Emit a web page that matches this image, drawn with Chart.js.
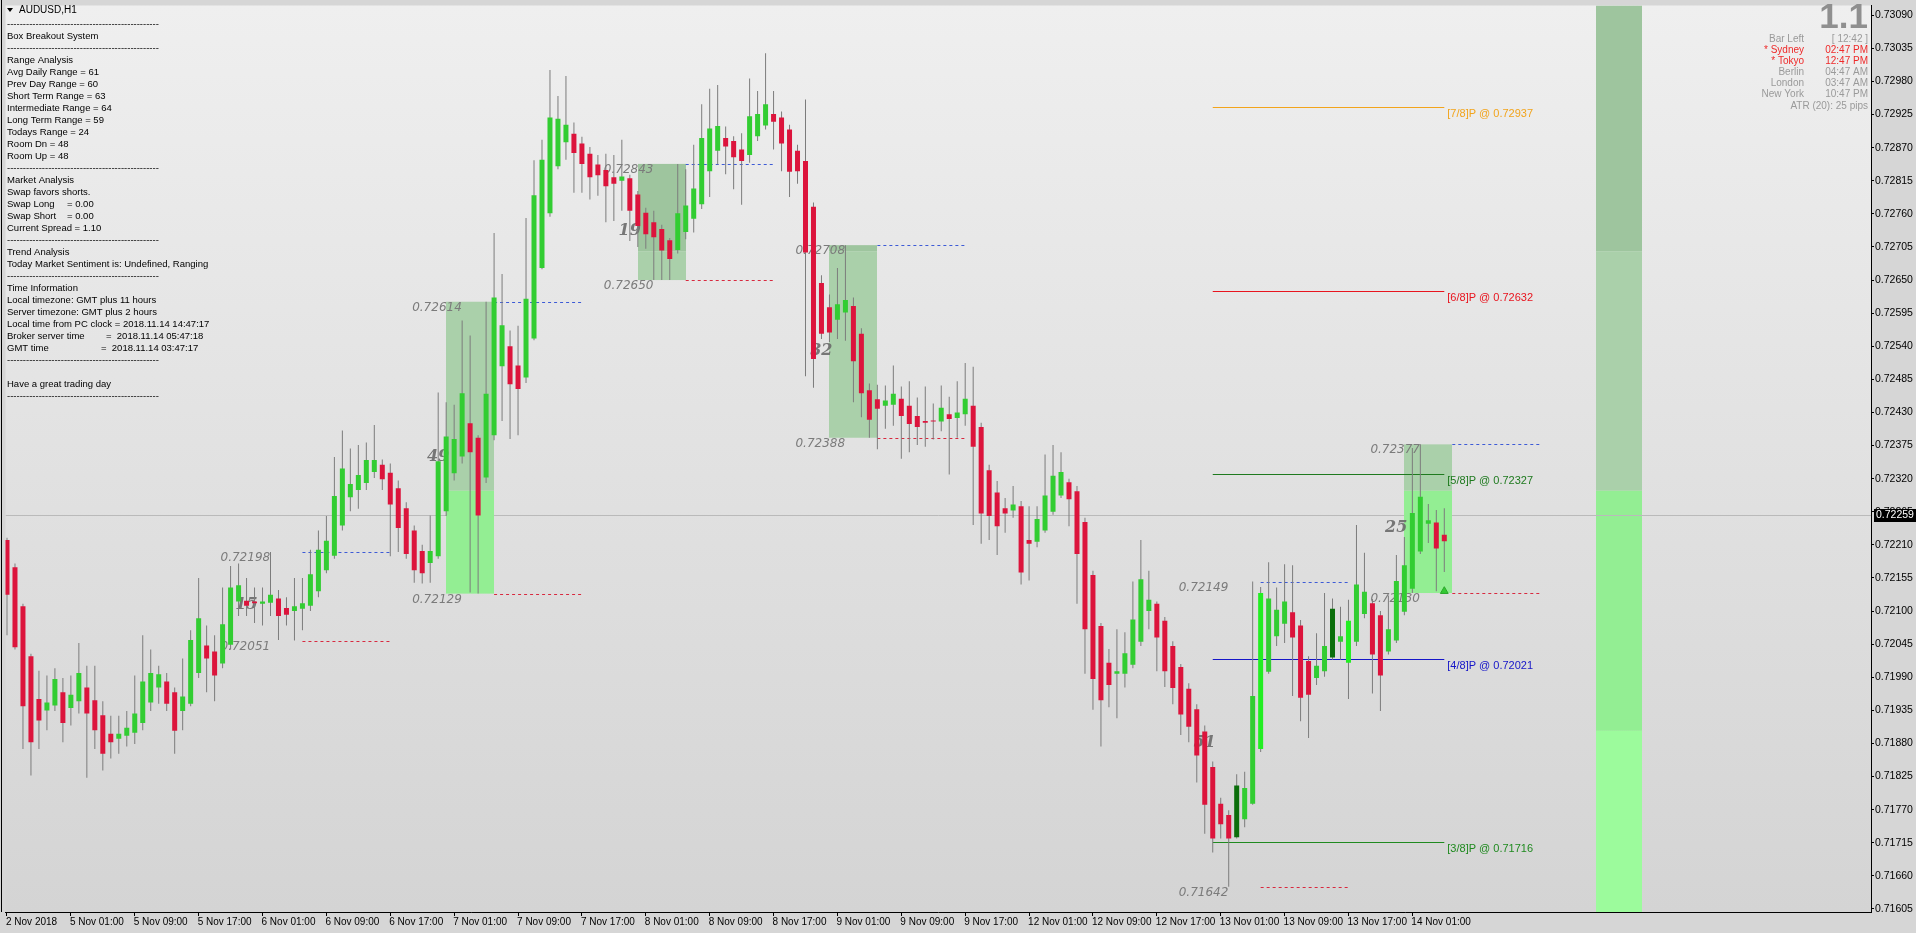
<!DOCTYPE html>
<html>
<head>
<meta charset="utf-8">
<script src="https://cdn.jsdelivr.net/npm/chart.js@4.4.1/dist/chart.umd.min.js"></script>
<style>
  html, body { margin: 0; padding: 0; background: #d6d6d6; overflow: hidden; }
  #wrap { width: 1916px; height: 933px; }
</style>
</head>
<body>
<div id="wrap"><canvas id="chart" width="1916" height="933"></canvas></div>
<script>
// AUDUSD H1, bar 0 = 2 Nov 2018 17:00, last bar = 14 Nov 05:00
const opens = [
  0.72218, 0.72173, 0.72108, 0.72025, 0.71954, 0.71935, 0.71943, 0.71965, 0.71939, 0.71950,
  0.71973, 0.71952, 0.71927, 0.71896, 0.71888, 0.71893, 0.71898, 0.71914, 0.71948, 0.71973,
  0.71983, 0.71965, 0.71934, 0.71946, 0.71997, 0.72043, 0.72033, 0.72013, 0.72044, 0.72116,
  0.72117, 0.72116, 0.72112, 0.72114, 0.72121, 0.72105, 0.72100, 0.72104, 0.72109, 0.72133,
  0.72168, 0.72192, 0.72242, 0.72289, 0.72301, 0.72313, 0.72331, 0.72343, 0.72330, 0.72304,
  0.72271, 0.72234, 0.72200, 0.72180, 0.72191, 0.72266, 0.72329, 0.72357, 0.72412, 0.72388,
  0.72322, 0.72392, 0.72507, 0.72540, 0.72508, 0.72488, 0.72553, 0.72670, 0.72761, 0.72839,
  0.72879, 0.72893, 0.72877, 0.72860, 0.72842, 0.72833, 0.72821, 0.72815, 0.72819, 0.72792,
  0.72762, 0.72746, 0.72735, 0.72716, 0.72700, 0.72730, 0.72752, 0.72776, 0.72831, 0.72865,
  0.72886, 0.72881, 0.72867, 0.72858, 0.72889, 0.72907, 0.72926, 0.72920, 0.72900, 0.72865,
  0.72848, 0.72772, 0.72645, 0.72605, 0.72584, 0.72596, 0.72607, 0.72561, 0.72467, 0.72452,
  0.72441, 0.72443, 0.72453, 0.72441, 0.72424, 0.72416, 0.72416, 0.72415, 0.72427, 0.72421,
  0.72427, 0.72441, 0.72406, 0.72334, 0.72297, 0.72271, 0.72267, 0.72274, 0.72218, 0.72215,
  0.72234, 0.72265, 0.72292, 0.72314, 0.72299, 0.72248, 0.72160, 0.72075, 0.72014, 0.71996,
  0.71996, 0.72011, 0.72049, 0.72100, 0.72112, 0.72084, 0.72042, 0.72007, 0.71971, 0.71937,
  0.71900, 0.71841, 0.71780, 0.71761, 0.71724, 0.71754, 0.71780, 0.71871, 0.71999, 0.72058,
  0.72079, 0.72098, 0.72076, 0.72017, 0.71989, 0.72000, 0.72023, 0.72049, 0.72014, 0.72049,
  0.72095, 0.72113, 0.72093, 0.72033, 0.72051, 0.72099, 0.72137, 0.72199, 0.72245, 0.72247, 0.72227
];
const highs = [
  0.72222, 0.72179, 0.72112, 0.72029, 0.72001, 0.71993, 0.72005, 0.71989, 0.71993, 0.72047,
  0.72009, 0.72009, 0.71950, 0.71926, 0.71926, 0.71934, 0.71993, 0.72060, 0.72036, 0.72009,
  0.71997, 0.71973, 0.72021, 0.72068, 0.72155, 0.72076, 0.72060, 0.72139, 0.72175, 0.72179,
  0.72155, 0.72139, 0.72139, 0.72198, 0.72135, 0.72123, 0.72155, 0.72155, 0.72202, 0.72234,
  0.72258, 0.72356, 0.72400, 0.72370, 0.72376, 0.72380, 0.72409, 0.72352, 0.72345, 0.72317,
  0.72281, 0.72242, 0.72210, 0.72259, 0.72463, 0.72447, 0.72443, 0.72583, 0.72558, 0.72392,
  0.72614, 0.72728, 0.72660, 0.72566, 0.72574, 0.72753, 0.72849, 0.72883, 0.72999, 0.72956,
  0.72989, 0.72912, 0.72888, 0.72871, 0.72858, 0.72860, 0.72858, 0.72883, 0.72825, 0.72798,
  0.72770, 0.72765, 0.72742, 0.72720, 0.72843, 0.72834, 0.72875, 0.72942, 0.72968, 0.72974,
  0.72905, 0.72889, 0.72894, 0.72985, 0.72964, 0.73027, 0.72964, 0.72930, 0.72908, 0.72875,
  0.72950, 0.72779, 0.72658, 0.72626, 0.72670, 0.72708, 0.72621, 0.72570, 0.72478, 0.72476,
  0.72475, 0.72508, 0.72473, 0.72482, 0.72455, 0.72473, 0.72445, 0.72475, 0.72456, 0.72482,
  0.72512, 0.72506, 0.72413, 0.72343, 0.72316, 0.72288, 0.72308, 0.72283, 0.72274, 0.72274,
  0.72360, 0.72376, 0.72364, 0.72320, 0.72308, 0.72255, 0.72167, 0.72080, 0.72037, 0.72070,
  0.72065, 0.72149, 0.72218, 0.72167, 0.72116, 0.72090, 0.72050, 0.72012, 0.71980, 0.71945,
  0.71910, 0.71850, 0.71790, 0.71769, 0.71829, 0.71833, 0.72149, 0.72140, 0.72181, 0.72139,
  0.72178, 0.72176, 0.72085, 0.72025, 0.72063, 0.72130, 0.72121, 0.72107, 0.72119, 0.72243,
  0.72197, 0.72120, 0.72100, 0.72126, 0.72193, 0.72223, 0.72371, 0.72377, 0.72278, 0.72268, 0.72271
];
const lows = [
  0.72060, 0.72036, 0.71871, 0.71827, 0.71871, 0.71902, 0.71934, 0.71882, 0.71910, 0.71930,
  0.71823, 0.71871, 0.71835, 0.71855, 0.71863, 0.71875, 0.71879, 0.71902, 0.71934, 0.71946,
  0.71934, 0.71863, 0.71902, 0.71942, 0.71989, 0.71965, 0.71950, 0.72005, 0.72036, 0.72092,
  0.72092, 0.72080, 0.72076, 0.72092, 0.72052, 0.72076, 0.72051, 0.72068, 0.72100, 0.72123,
  0.72163, 0.72187, 0.72234, 0.72266, 0.72270, 0.72301, 0.72321, 0.72301, 0.72191, 0.72198,
  0.72187, 0.72147, 0.72146, 0.72147, 0.72187, 0.72258, 0.72317, 0.72345, 0.72131, 0.72129,
  0.72313, 0.72384, 0.72416, 0.72386, 0.72392, 0.72479, 0.72550, 0.72668, 0.72755, 0.72834,
  0.72850, 0.72795, 0.72795, 0.72784, 0.72790, 0.72746, 0.72748, 0.72765, 0.72715, 0.72705,
  0.72702, 0.72650, 0.72650, 0.72650, 0.72694, 0.72718, 0.72729, 0.72768, 0.72788, 0.72842,
  0.72826, 0.72801, 0.72775, 0.72845, 0.72881, 0.72900, 0.72867, 0.72831, 0.72788, 0.72810,
  0.72490, 0.72471, 0.72552, 0.72547, 0.72552, 0.72549, 0.72447, 0.72422, 0.72388, 0.72369,
  0.72403, 0.72408, 0.72353, 0.72364, 0.72376, 0.72373, 0.72385, 0.72399, 0.72327, 0.72388,
  0.72408, 0.72243, 0.72212, 0.72218, 0.72193, 0.72230, 0.72255, 0.72144, 0.72151, 0.72206,
  0.72230, 0.72260, 0.72288, 0.72241, 0.72112, 0.71996, 0.71936, 0.71875, 0.71940, 0.71922,
  0.71973, 0.72005, 0.72042, 0.72070, 0.72000, 0.71974, 0.71945, 0.71894, 0.71882, 0.71815,
  0.71730, 0.71699, 0.71722, 0.71642, 0.71722, 0.71741, 0.71778, 0.71866, 0.71996, 0.72042,
  0.72047, 0.71959, 0.71917, 0.71889, 0.71977, 0.71991, 0.72019, 0.72019, 0.71954, 0.72042,
  0.72088, 0.71963, 0.71934, 0.72028, 0.72047, 0.72093, 0.72130, 0.72195, 0.72213, 0.72133, 0.72165
];
const closes = [
  0.72127, 0.72040, 0.71942, 0.71882, 0.71918, 0.71948, 0.71987, 0.71914, 0.71961, 0.71997,
  0.71930, 0.71902, 0.71863, 0.71882, 0.71896, 0.71906, 0.71930, 0.71983, 0.71997, 0.71995,
  0.71946, 0.71901, 0.71958, 0.72052, 0.72088, 0.72021, 0.71993, 0.72078, 0.72139, 0.72143,
  0.72109, 0.72113, 0.72116, 0.72127, 0.72092, 0.72094, 0.72108, 0.72113, 0.72161, 0.72202,
  0.72217, 0.72291, 0.72337, 0.72311, 0.72326, 0.72351, 0.72351, 0.72319, 0.72277, 0.72238,
  0.72195, 0.72168, 0.72163, 0.72200, 0.72349, 0.72390, 0.72386, 0.72462, 0.72364, 0.72259,
  0.72461, 0.72621, 0.72575, 0.72477, 0.72469, 0.72619, 0.72791, 0.72850, 0.72920, 0.72918,
  0.72908, 0.72861, 0.72843, 0.72821, 0.72824, 0.72806, 0.72810, 0.72822, 0.72765, 0.72740,
  0.72726, 0.72721, 0.72699, 0.72685, 0.72761, 0.72774, 0.72802, 0.72886, 0.72902, 0.72906,
  0.72872, 0.72854, 0.72848, 0.72922, 0.72926, 0.72942, 0.72913, 0.72877, 0.72830, 0.72831,
  0.72696, 0.72519, 0.72561, 0.72563, 0.72610, 0.72617, 0.72515, 0.72462, 0.72418, 0.72436,
  0.72450, 0.72461, 0.72424, 0.72411, 0.72406, 0.72413, 0.72415, 0.72438, 0.72419, 0.72430,
  0.72453, 0.72373, 0.72262, 0.72258, 0.72241, 0.72262, 0.72277, 0.72164, 0.72212, 0.72253,
  0.72292, 0.72325, 0.72331, 0.72286, 0.72195, 0.72070, 0.71987, 0.71952, 0.71977, 0.72000,
  0.72030, 0.72086, 0.72153, 0.72119, 0.72056, 0.72000, 0.71972, 0.71928, 0.71908, 0.71860,
  0.71778, 0.71722, 0.71746, 0.71722, 0.71810, 0.71806, 0.71959, 0.72130, 0.72121, 0.72102,
  0.72116, 0.72056, 0.71956, 0.71961, 0.72009, 0.72042, 0.72104, 0.72058, 0.72084, 0.72144,
  0.72132, 0.72028, 0.71993, 0.72070, 0.72150, 0.72176, 0.72263, 0.72290, 0.72251, 0.72204, 0.72216
];

// special candle colours drawn by the indicator
const specialBars = [154, 157, 166, 168];
const specialColors = ['#0b6e0b', '#22ee22', '#0b6e0b', '#22ee22'];

// time axis labels
const timeBars = [0, 8, 16, 24, 32, 40, 48, 56, 64, 72, 80, 88, 96, 104, 112, 120, 128, 136, 144, 152, 160, 168, 176];
const timeLabels = ['2 Nov 2018', '5 Nov 01:00', '5 Nov 09:00', '5 Nov 17:00', '6 Nov 01:00', '6 Nov 09:00',
  '6 Nov 17:00', '7 Nov 01:00', '7 Nov 09:00', '7 Nov 17:00', '8 Nov 01:00', '8 Nov 09:00', '8 Nov 17:00',
  '9 Nov 01:00', '9 Nov 09:00', '9 Nov 17:00', '12 Nov 01:00', '12 Nov 09:00', '12 Nov 17:00',
  '13 Nov 01:00', '13 Nov 09:00', '13 Nov 17:00', '14 Nov 01:00'];

// price axis ticks
const priceTicks = [0.71605, 0.71660, 0.71715, 0.71770, 0.71825, 0.71880, 0.71935, 0.71990, 0.72045,
  0.72100, 0.72155, 0.72210, 0.72265, 0.72320, 0.72375, 0.72430, 0.72485, 0.72540, 0.72595, 0.72650,
  0.72705, 0.72760, 0.72815, 0.72870, 0.72925, 0.72980, 0.73035, 0.73090];
const bidPrice = 0.72259;

// daily breakout boxes (first 6 bars of each day)
const boxStart = [31, 55, 79, 103, 151, 175];
const boxHigh = [0.72198, 0.72614, 0.72843, 0.72708, 0.72149, 0.72377];
const boxLow = [0.72051, 0.72129, 0.72650, 0.72388, 0.71642, 0.72130];
const boxPips = ['15', '49', '19', '32', '51', '25'];
const boxFilled = [false, true, true, true, false, true];

// Murrey levels
const levelNames = ['[7/8]P', '[6/8]P', '[5/8]P', '[4/8]P', '[3/8]P'];
const levelValues = [0.72937, 0.72632, 0.72327, 0.72021, 0.71716];
const levelColors = ['#f2a41c', '#e8141e', '#1f7a1f', '#1515c8', '#1f8a1f'];

// zone bands (right column + box shading)
const zoneEdges = [0.72698, 0.72300, 0.71901];
const zoneColors = ['#9ec59e', '#aad0aa', '#93ee93', '#9cfb9c'];
const columnBars = [199, 204.75];

const arrowBars = [180];
const arrowPrices = [0.72133];

const infoLines = [
  ['-'], ['Box Breakout System'], ['-'], ['Range Analysis'],
  ['Avg Daily Range = 61'], ['Prev Day Range = 60'], ['Short Term Range = 63'], ['Intermediate Range = 64'],
  ['Long Term Range = 59'], ['Todays Range = 24'], ['Room Dn = 48'], ['Room Up = 48'], ['-'],
  ['Market Analysis'], ['Swap favors shorts.'], ['Swap Long', 67, '= 0.00'], ['Swap Short', 67, '= 0.00'],
  ['Current Spread = 1.10'], ['-'], ['Trend Analysis'], ['Today Market Sentiment is: Undefined, Ranging'], ['-'],
  ['Time Information'], ['Local timezone: GMT plus 11 hours'], ['Server timezone: GMT plus 2 hours'],
  ['Local time from PC clock = 2018.11.14 14:47:17'], ['Broker server time', 106, '=  2018.11.14 05:47:18'],
  ['GMT time', 101, '=  2018.11.14 03:47:17'], ['-'], [''], ['Have a great trading day'], ['-']
];

const clockNames = ['Bar Left', '* Sydney', '* Tokyo', 'Berlin', 'London', 'New York'];
const clockTimes = ['[ 12:42 ]', '02:47 PM', '12:47 PM', '04:47 AM', '03:47 AM', '10:47 PM'];
const clockHot = [false, true, true, false, false, false];

const SANS = '"Liberation Sans", Arial, sans-serif';
const bull = '#32cd32';
const bear = '#dc143c';

const bars = opens.map((_, i) => i);
const bodyColors = bars.map(k => {
  const s = specialBars.indexOf(k);
  if (s >= 0) return specialColors[s];
  return closes[k] >= opens[k] ? bull : bear;
});

const overlay = {
  id: 'overlay',
  beforeDraw(chart) {
    const { ctx, chartArea: a } = chart;
    ctx.save();
    ctx.fillStyle = '#d6d6d6';
    ctx.fillRect(0, 0, chart.width, chart.height);
    const g = ctx.createLinearGradient(0, a.top, 0, a.bottom);
    g.addColorStop(0, '#efefef');
    g.addColorStop(1, '#d4d4d4');
    ctx.fillStyle = g;
    ctx.fillRect(a.left, a.top, a.right - a.left, a.bottom - a.top);
    ctx.restore();
  },
  beforeDatasetsDraw(chart) {
    const { ctx, chartArea: a, scales: { x, y } } = chart;
    const px = v => x.getPixelForValue(v);
    const py = v => y.getPixelForValue(v);
    const bounds = [y.max, ...zoneEdges, y.min];
    ctx.save();
    ctx.beginPath();
    ctx.rect(a.left, a.top, a.right - a.left, a.bottom - a.top);
    ctx.clip();

    // zone column
    const c0 = Math.round(px(columnBars[0])), c1 = Math.round(px(columnBars[1]));
    zoneColors.forEach((col, z) => {
      ctx.fillStyle = col;
      const t = py(bounds[z]), b = py(bounds[z + 1]);
      ctx.fillRect(c0, t, c1 - c0, b - t);
    });

    // bid line
    const by = Math.round(py(bidPrice)) + 0.5;
    ctx.strokeStyle = '#bababa';
    ctx.lineWidth = 1;
    ctx.beginPath(); ctx.moveTo(a.left, by); ctx.lineTo(a.right, by); ctx.stroke();

    // boxes
    boxStart.forEach((k, i) => {
      const x0 = Math.round(px(k)), x1 = Math.round(px(k + 6));
      if (boxFilled[i]) {
        zoneColors.forEach((col, z) => {
          const top = Math.min(boxHigh[i], bounds[z]);
          const bot = Math.max(boxLow[i], bounds[z + 1]);
          if (top <= bot) return;
          ctx.fillStyle = col;
          ctx.fillRect(x0, py(top), x1 - x0, py(bot) - py(top));
        });
      }
      // dashed continuation lines
      ctx.setLineDash([3, 3]);
      const d0 = px(k + 6), d1 = px(k + 17);
      [[boxHigh[i], '#3d5bd6'], [boxLow[i], '#d8293f']].forEach(([v, col]) => {
        const yy = Math.round(py(v)) + 0.5;
        ctx.strokeStyle = col;
        ctx.beginPath(); ctx.moveTo(d0, yy); ctx.lineTo(d1, yy); ctx.stroke();
      });
      ctx.setLineDash([]);
      // price labels
      ctx.font = 'italic 12px "DejaVu Sans", sans-serif';
      ctx.fillStyle = '#7b7b7b';
      ctx.textAlign = 'left';
      ctx.textBaseline = 'top';
      ctx.fillText(boxHigh[i].toFixed(5), px(k) - 34, py(boxHigh[i]));
      ctx.fillText(boxLow[i].toFixed(5), px(k) - 34, py(boxLow[i]));
      // pip range
      ctx.font = 'italic bold 16px "DejaVu Serif", serif';
      ctx.fillStyle = 'rgba(105,105,105,0.9)';
      ctx.textAlign = 'right';
      ctx.textBaseline = 'middle';
      ctx.fillText(boxPips[i], px(k) + 3, py((boxHigh[i] + boxLow[i]) / 2) + 9);
    });

    // Murrey levels
    const l0 = px(151), l1 = px(180);
    levelValues.forEach((v, i) => {
      const yy = Math.round(py(v)) + 0.5;
      ctx.strokeStyle = levelColors[i];
      ctx.beginPath(); ctx.moveTo(l0, yy); ctx.lineTo(l1, yy); ctx.stroke();
      ctx.font = '11px ' + SANS;
      ctx.fillStyle = levelColors[i];
      ctx.textAlign = 'left';
      ctx.textBaseline = 'top';
      ctx.fillText(levelNames[i] + ' @ ' + v.toFixed(5), l1 + 3, yy + 1);
    });
    ctx.restore();
  },
  afterDraw(chart) {
    const { ctx, chartArea: a, scales: { y } } = chart;
    ctx.save();
    // left frame line
    ctx.strokeStyle = '#000';
    ctx.lineWidth = 1;
    ctx.beginPath(); ctx.moveTo(1.5, 0); ctx.lineTo(1.5, a.bottom); ctx.stroke();

    // bid tag on price axis
    const by = y.getPixelForValue(bidPrice);
    ctx.fillStyle = '#000';
    ctx.fillRect(a.right + 3, Math.round(by) - 6, chart.width - a.right - 3, 13);
    ctx.fillStyle = '#fff';
    ctx.font = '10.5px ' + SANS;
    ctx.textAlign = 'left';
    ctx.textBaseline = 'middle';
    ctx.fillText(bidPrice.toFixed(5), a.right + 5, Math.round(by) + 0.5);

    // title
    ctx.fillStyle = '#000';
    ctx.beginPath(); ctx.moveTo(7, 8); ctx.lineTo(13, 8); ctx.lineTo(10, 12); ctx.closePath(); ctx.fill();
    ctx.font = '10px ' + SANS;
    ctx.textBaseline = 'middle';
    ctx.fillText('AUDUSD,H1', 19, 10);

    // info panel
    ctx.font = '9.5px ' + SANS;
    infoLines.forEach((row, i) => {
      const yy = 24 + i * 12.02;
      const txt = row[0] === '-' ? '-'.repeat(48) : row[0];
      ctx.fillText(txt, 7, yy);
      if (row.length > 1) ctx.fillText(row[2], row[1], yy);
    });

    // session clock panel
    ctx.font = 'bold 35px ' + SANS;
    ctx.fillStyle = '#8f8f8f';
    ctx.textAlign = 'right';
    ctx.textBaseline = 'alphabetic';
    ctx.fillText('1.1', 1868, 28);
    ctx.font = '10px ' + SANS;
    ctx.textBaseline = 'middle';
    clockNames.forEach((n, i) => {
      const yy = 39 + i * 11.14;
      ctx.fillStyle = clockHot[i] ? '#ee2a2a' : '#9a9a9a';
      ctx.fillText(n, 1804, yy);
      ctx.fillText(clockTimes[i], 1868, yy);
    });
    ctx.fillStyle = '#9a9a9a';
    ctx.fillText('ATR (20): 25 pips', 1868, 106);
    ctx.restore();
  }
};

new Chart(document.getElementById('chart'), {
  type: 'bar',
  data: {
    datasets: [
      {
        label: 'wick',
        data: bars.map(k => ({ x: k, y: [lows[k], highs[k]] })),
        backgroundColor: '#7c7c7c',
        barThickness: 1,
        minBarLength: 1,
        grouped: false,
        inflateAmount: 0,
        order: 3
      },
      {
        label: 'body',
        data: bars.map(k => ({ x: k, y: [opens[k], closes[k]] })),
        backgroundColor: bodyColors,
        barThickness: 5,
        minBarLength: 1,
        grouped: false,
        inflateAmount: 0,
        order: 2
      },
      {
        type: 'line',
        label: 'signal',
        data: arrowBars.map((k, i) => ({ x: k, y: arrowPrices[i] })),
        showLine: false,
        pointStyle: 'triangle',
        pointRadius: 4.5,
        pointBackgroundColor: '#34c934',
        pointBorderColor: '#2aa82a',
        pointBorderWidth: 1,
        order: 1
      }
    ]
  },
  options: {
    responsive: false,
    animation: false,
    events: [],
    layout: { padding: { left: 2, top: 0, right: 0, bottom: 0 } },
    plugins: { legend: { display: false }, tooltip: { enabled: false } },
    scales: {
      x: {
        type: 'linear',
        min: -0.1875,
        max: 233.4375,
        offset: false,
        grid: { display: true, drawOnChartArea: false, drawTicks: true, tickLength: 4, color: '#000', tickColor: '#000', offset: false },
        border: { display: true, color: '#000' },
        ticks: {
          autoSkip: false,
          maxRotation: 0,
          align: 'start',
          labelOffset: -1,
          padding: 0,
          color: '#000',
          font: { family: SANS, size: 10 },
          callback: v => timeLabels[timeBars.indexOf(v)]
        },
        afterBuildTicks: s => { s.ticks = timeBars.map(v => ({ value: v })); },
        afterFit: s => { s.height = 21; s.paddingLeft = 0; s.paddingRight = 0; }
      },
      y: {
        type: 'linear',
        position: 'right',
        min: 0.716,
        max: 0.731062,
        beginAtZero: false,
        grid: { display: true, drawOnChartArea: false, drawTicks: true, tickLength: 3, color: '#000', tickColor: '#000' },
        border: { display: true, color: '#000' },
        ticks: {
          padding: 1,
          color: '#000',
          font: { family: SANS, size: 10.5 },
          callback: v => v.toFixed(5)
        },
        afterBuildTicks: s => { s.ticks = priceTicks.map(v => ({ value: v })); },
        afterFit: s => { s.width = 45; s.paddingTop = 0; s.paddingBottom = 0; }
      }
    }
  },
  plugins: [overlay]
});
</script>
</body>
</html>
